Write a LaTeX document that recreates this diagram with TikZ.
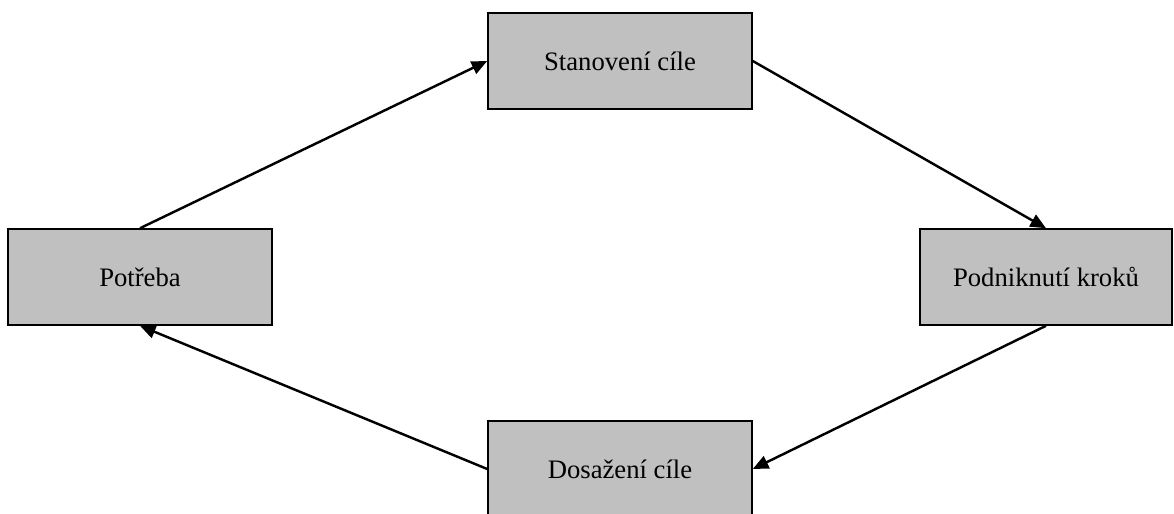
\documentclass[tikz,border=0pt]{standalone}
\usepackage{fontspec}
\setmainfont{Liberation Serif}
\usetikzlibrary{arrows.meta}

\begin{document}
\begin{tikzpicture}[x=0.45pt,y=-0.45pt,
        krok/.style={draw,line width=0.7pt,fill={rgb,255:red,192;green,192;blue,192},minimum width=118.8pt,minimum height=43.2pt,inner sep=0pt,font=\fontsize{12}{14}\selectfont},
        sipka/.style={line width=1.1pt,-{Triangle[length=7pt,width=6pt]}}]
            \useasboundingbox (0,0) rectangle (1174,513);
            \node[krok] (stanoveni) at (620,61) {Stanovení cíle};
            \node[krok] (potreba) at (140,277) {Potřeba};
            \node[krok,minimum width=113.4pt] (podniknuti) at (1046,277) {Podniknutí kroků};
            \node[krok] (dosazeni) at (620,469) {Dosažení cíle};
            \draw[sipka] (potreba.north)--(stanoveni.west);
            \draw[sipka] (stanoveni.east)--(podniknuti.north);
            \draw[sipka] (podniknuti.south)--(dosazeni.east);
            \draw[sipka] (dosazeni.west)--(potreba.south);
        \end{tikzpicture}
\end{document}
